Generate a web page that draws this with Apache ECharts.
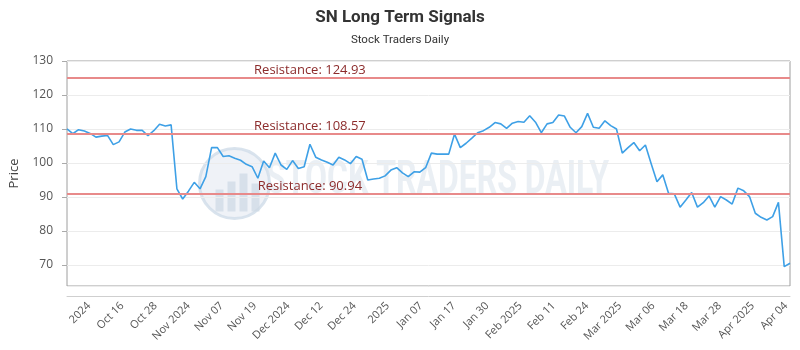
<!DOCTYPE html>
<html>
<head>
<meta charset="utf-8">
<script src="https://cdn.jsdelivr.net/npm/echarts@6/dist/echarts.min.js"></script>
<style>html,body{margin:0;padding:0;background:#fff}#c{width:800px;height:350px}</style>
</head>
<body>
<div id="c"></div>
<script>
const dates = [
"2024-10-03","2024-10-04","2024-10-07","2024-10-08","2024-10-09","2024-10-10","2024-10-11","2024-10-14","2024-10-15","2024-10-16",
"2024-10-17","2024-10-18","2024-10-21","2024-10-22","2024-10-23","2024-10-24","2024-10-25","2024-10-28","2024-10-29","2024-10-30",
"2024-10-31","2024-11-01","2024-11-04","2024-11-05","2024-11-06","2024-11-07","2024-11-08","2024-11-11","2024-11-12","2024-11-13",
"2024-11-14","2024-11-15","2024-11-18","2024-11-19","2024-11-20","2024-11-21","2024-11-22","2024-11-25","2024-11-26","2024-11-27",
"2024-11-29","2024-12-02","2024-12-03","2024-12-04","2024-12-05","2024-12-06","2024-12-09","2024-12-10","2024-12-11","2024-12-12",
"2024-12-13","2024-12-16","2024-12-17","2024-12-18","2024-12-19","2024-12-20","2024-12-23","2024-12-24","2024-12-26","2024-12-27",
"2024-12-30","2024-12-31","2025-01-02","2025-01-03","2025-01-06","2025-01-07","2025-01-08","2025-01-10","2025-01-13","2025-01-14",
"2025-01-15","2025-01-16","2025-01-17","2025-01-21","2025-01-22","2025-01-23","2025-01-24","2025-01-27","2025-01-28","2025-01-29",
"2025-01-30","2025-01-31","2025-02-03","2025-02-04","2025-02-05","2025-02-06","2025-02-07","2025-02-10","2025-02-11","2025-02-12",
"2025-02-13","2025-02-14","2025-02-18","2025-02-19","2025-02-20","2025-02-21","2025-02-24","2025-02-25","2025-02-26","2025-02-27",
"2025-02-28","2025-03-03","2025-03-04","2025-03-05","2025-03-06","2025-03-07","2025-03-10","2025-03-11","2025-03-12","2025-03-13",
"2025-03-14","2025-03-17","2025-03-18","2025-03-19","2025-03-20","2025-03-21","2025-03-24","2025-03-25","2025-03-26","2025-03-27",
"2025-03-28","2025-03-31","2025-04-01","2025-04-02","2025-04-03","2025-04-04"
];
const prices = [
110.0,108.6,109.8,109.4,108.7,107.6,107.9,108.1,105.4,106.2,
109.1,110.0,109.6,109.6,108.0,109.5,111.4,110.9,111.2,92.4,
89.4,91.7,94.3,92.4,96.0,104.5,104.5,101.9,102.1,101.4,
100.8,99.6,98.9,95.5,100.6,98.6,102.9,99.4,98.1,100.7,
98.4,98.9,105.5,101.7,100.9,100.2,99.4,101.7,100.9,99.8,
101.9,101.1,95.0,95.3,95.5,96.2,97.9,98.6,97.1,96.0,
97.4,97.3,98.6,102.9,102.6,102.6,102.6,108.5,104.5,105.8,
107.3,108.9,109.5,110.5,111.9,111.5,110.2,111.7,112.2,112.0,
113.9,112.0,108.9,111.5,111.9,114.1,113.8,110.5,108.9,110.7,
114.6,110.5,110.2,112.4,111.0,110.0,102.9,104.5,106.0,103.6,
105.3,99.8,94.5,96.5,91.1,90.9,87.0,89.1,91.3,87.0,
88.3,90.3,87.0,90.1,89.1,87.9,92.6,91.8,90.1,85.2,
84.0,83.2,84.2,88.4,69.5,70.5
];
const resistances = [124.93, 108.57, 90.94];
const tickLabels = ["2024","Oct 16","Oct 28","Nov 2024","Nov 07","Nov 19","Dec 2024","Dec 12","Dec 24","2025",
"Jan 07","Jan 17","Jan 30","Feb 2025","Feb 11","Feb 24","Mar 2025","Mar 06","Mar 18","Mar 28","Apr 2025","Apr 04"];
const chartTitle = "SN Long Term Signals";
const chartSubtitle = "Stock Traders Daily";
const yName = "Price";
const watermarkText = "STOCK TRADERS DAILY";
const resistanceLabelAt = "2024-12-03";

const chart = echarts.init(document.getElementById('c'), null, {renderer: 'canvas'});
const FONT = '"Open Sans", sans-serif';
const option = {
  animation: false,
  backgroundColor: '#ffffff',
  title: {
    text: chartTitle, subtext: chartSubtitle, left: 'center', top: 4, itemGap: 8,
    textStyle: {fontFamily: 'Roboto, sans-serif', fontSize: 17, fontWeight: 'bold', color: '#333'},
    subtextStyle: {fontFamily: 'Roboto, sans-serif', fontSize: 11.5, color: '#333'}
  },
  graphic: [
    {type: 'group', left: 198, top: 147, z: 0, silent: true, children: [
      {type: 'circle', shape: {cx: 36, cy: 36, r: 35}, style: {fill: 'rgba(225,232,240,0.55)', stroke: 'rgba(208,220,232,0.8)', lineWidth: 3}},
      {type: 'rect', shape: {x: 17, y: 42, width: 8, height: 22}, style: {fill: 'rgba(205,216,228,0.7)'}},
      {type: 'rect', shape: {x: 29, y: 34, width: 8, height: 30}, style: {fill: 'rgba(205,216,228,0.7)'}},
      {type: 'rect', shape: {x: 41, y: 26, width: 8, height: 38}, style: {fill: 'rgba(205,216,228,0.7)'}},
      {type: 'rect', shape: {x: 53, y: 36, width: 8, height: 28}, style: {fill: 'rgba(205,216,228,0.7)'}}
    ]},
    {type: 'text', left: 266, top: 158, z: 0, silent: true, scaleX: 0.68,
      style: {text: watermarkText, fontFamily: 'Roboto, sans-serif', fontSize: 47, fontWeight: 'bold', fill: 'rgba(220,228,237,0.6)'}}
  ],
  grid: [
    {left: 67, right: 10, top: 61, bottom: 64, show: true, borderColor: '#9e9e9e', borderWidth: 1, backgroundColor: 'transparent'},
    {left: 89, right: 14, top: 61, bottom: 64, show: false}
  ],
  xAxis: [
    {type: 'category', gridIndex: 0, data: dates, boundaryGap: false, offset: 10,
      axisLine: {show: true, lineStyle: {color: '#cfcfcf'}}, axisTick: {show: false},
      axisLabel: {show: false}, splitLine: {show: false}},
    {type: 'category', gridIndex: 1, data: tickLabels, boundaryGap: false, offset: 10,
      axisLine: {show: false}, axisTick: {show: false},
      axisLabel: {interval: 0, rotate: 45, margin: 8, fontSize: 11, color: '#555', fontFamily: FONT},
      splitLine: {show: false}}
  ],
  yAxis: [
    {type: 'value', gridIndex: 0, min: 63.8, max: 130, name: yName, nameLocation: 'middle', nameGap: 46, nameRotate: 90,
      nameTextStyle: {fontSize: 13, color: '#444', fontFamily: FONT},
      axisLine: {show: false}, axisTick: {show: true, length: 5, lineStyle: {color: '#aaa'}},
      axisLabel: {fontSize: 12, color: '#555', margin: 14, fontFamily: FONT, showMinLabel: false},
      splitLine: {show: true, lineStyle: {color: '#ececec'}}},
    {type: 'value', gridIndex: 1, show: false}
  ],
  series: [{
    type: 'line', xAxisIndex: 0, yAxisIndex: 0, data: prices, showSymbol: false, symbol: 'none',
    lineStyle: {color: '#3ea0e6', width: 1.6}, z: 3,
    markLine: {silent: true, symbol: 'none', label: {show: false},
      lineStyle: {color: '#e88a8a', width: 2, type: 'solid'},
      data: resistances.map(v => ({yAxis: v}))},
    markPoint: {silent: true, symbol: 'circle', symbolSize: 0,
      label: {show: true, position: 'top', distance: 1, color: '#8c2b2b', fontSize: 13, fontFamily: FONT,
        formatter: p => 'Resistance: ' + p.value},
      data: resistances.map(v => ({coord: [resistanceLabelAt, v], value: v}))}
  }]
};
chart.setOption(option);
</script>
</body>
</html>
